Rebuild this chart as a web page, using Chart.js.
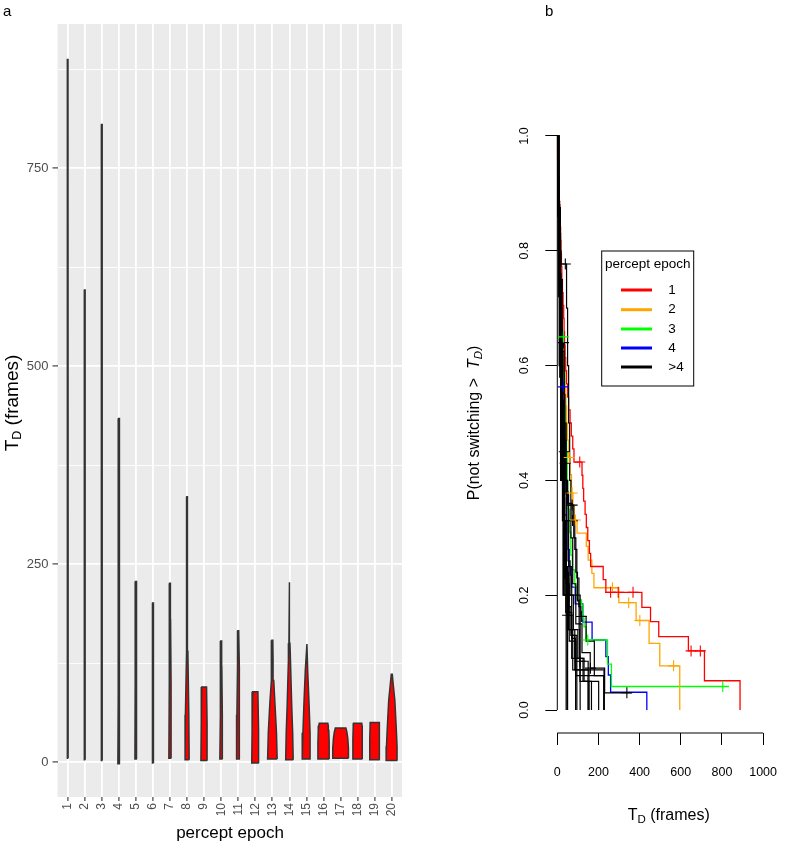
<!DOCTYPE html>
<html>
<head>
<meta charset="utf-8">
<script src="https://cdn.jsdelivr.net/npm/chart.js@4.4.1/dist/chart.umd.min.js"></script>
<style>
  body { margin: 0; background: #fff; }
  #wrap { position: relative; width: 797px; height: 845px; }
  canvas { position: absolute; top: 0; }
  #violin { left: 0; }
  #survival { left: 420px; }
</style>
</head>
<body>
<div id="wrap">
  <canvas id="violin" width="420" height="845"></canvas>
  <canvas id="survival" width="377" height="845"></canvas>
</div>
<script>
// ---- panel a : violins of T_D per percept epoch ----
const epochs = [1, 2, 3, 4, 5, 6, 7, 8, 9, 10, 11, 12, 13, 14, 15, 16, 17, 18, 19, 20];
// each profile: [T_D, half width in category units], bottom to top
const violinProfiles = [
  [[5, 0.03], [100, 0.025], [300, 0.02], [888, 0.015]],
  [[3, 0.03], [200, 0.025], [596, 0.015]],
  [[2, 0.03], [200, 0.025], [805, 0.015]],
  [[-2, 0.06], [80, 0.05], [175, 0.03], [434, 0.015]],
  [[4, 0.06], [100, 0.045], [228, 0.02]],
  [[-1, 0.035], [100, 0.03], [201, 0.02]],
  [[5, 0.07], [100, 0.06], [180, 0.03], [226, 0.02]],
  [[3, 0.12], [60, 0.1], [140, 0.045], [220, 0.02], [335, 0.015]],
  [[2, 0.19], [50, 0.17], [95, 0.14]],
  [[4, 0.08], [60, 0.065], [120, 0.035], [153, 0.025]],
  [[4, 0.1], [60, 0.08], [120, 0.045], [166, 0.025]],
  [[-1, 0.21], [40, 0.19], [89, 0.15]],
  [[4, 0.28], [37, 0.24], [74, 0.15], [103, 0.08], [129, 0.04], [154, 0.025]],
  [[3, 0.22], [37, 0.19], [74, 0.13], [129, 0.06], [150, 0.03], [227, 0.02]],
  [[4, 0.25], [37, 0.21], [74, 0.15], [116, 0.07], [149, 0.025]],
  [[4, 0.33], [25, 0.33], [40, 0.31], [46, 0.28], [49, 0.25]],
  [[5, 0.46], [18, 0.46], [30, 0.42], [38, 0.37], [43, 0.31]],
  [[4, 0.28], [30, 0.28], [45, 0.26], [49, 0.24]],
  [[3, 0.29], [30, 0.29], [46, 0.27], [50, 0.26]],
  [[2, 0.33], [20, 0.31], [40, 0.27], [78, 0.18], [95, 0.1], [111, 0.03]]
];
const yMajorA = [0, 250, 500, 750];
const yGridA = [0, 125, 250, 375, 500, 625, 750, 875];

// ---- panel b : survival curves ----
const kmEpoch1 = [[0,1],[2,0.977],[4,0.955],[6,0.932],[8,0.909],[10,0.886],[12,0.864],[14,0.841],[16,0.818],[18,0.795],[20,0.773],[22,0.75],[25,0.727],[28,0.705],[31,0.682],[33,0.659],[35,0.636],[38,0.614],[41,0.591],[45,0.568],[50,0.545],[55,0.523],[62,0.5],[68,0.477],[75,0.455],[81,0.432],[120,0.409],[124,0.386],[128,0.364],[135,0.341],[141,0.318],[148,0.295],[156,0.273],[162,0.25],[223,0.227],[236,0.205],[411,0.179],[453,0.154],[493,0.128],[637,0.103],[715,0.051],[888,0]];
const kmEpoch2 = [[0,1],[1,0.96],[2,0.92],[3,0.88],[5,0.86],[7,0.83],[9,0.8],[11,0.77],[14,0.74],[17,0.71],[20,0.68],[24,0.65],[28,0.62],[32,0.59],[36,0.56],[40,0.53],[45,0.5],[50,0.47],[56,0.44],[62,0.41],[69,0.378],[76,0.355],[82,0.331],[96,0.308],[141,0.285],[150,0.261],[168,0.238],[178,0.213],[299,0.187],[383,0.156],[446,0.116],[498,0.077],[595,0]];
const kmEpoch3 = [[0,1],[2,0.95],[4,0.9],[6,0.85],[9,0.8],[12,0.75],[16,0.7],[22,0.65],[33,0.6],[37,0.55],[41,0.5],[45,0.45],[48,0.4],[51,0.35],[58,0.31],[66,0.27],[73,0.244],[85,0.215],[96,0.192],[118,0.183],[125,0.16],[130,0.145],[140,0.122],[244,0.08],[263,0.041],[834,0.041]];
const kmEpoch4 = [[0,1],[2,0.93],[4,0.87],[7,0.8],[10,0.73],[14,0.67],[18,0.6],[24,0.563],[34,0.5],[38,0.44],[42,0.38],[46,0.33],[52,0.28],[58,0.25],[63,0.235],[70,0.214],[87,0.185],[124,0.153],[169,0.122],[236,0.093],[248,0.061],[259,0.031],[435,0]];
const censEpoch1 = [[109,0.432],[259,0.205],[296,0.205],[368,0.205],[650,0.103],[695,0.103]];
const censEpoch2 = [[58,0.44],[72,0.378],[88,0.331],[268,0.213],[347,0.187],[401,0.156],[565,0.077]];
const censEpoch3 = [[30,0.65],[148,0.122],[804,0.041]];
const censEpoch4 = [[30,0.563]];
// epochs 5 .. 20 (all drawn black, legend ">4")
const kmLater = [
  [[0,1],[3,0.9],[7,0.8],[11,0.72],[16,0.64],[21,0.57],[27,0.5],[32,0.45],[40,0.4],[50,0.36],[72,0.33],[85,0.28],[95,0.23],[105,0.18],[115,0.163],[140,0.12],[180,0.06],[228,0]],
  [[0,1],[3,0.88],[7,0.76],[12,0.65],[17,0.55],[22,0.46],[28,0.38],[34,0.31],[40,0.25],[45,0.2],[48,0.165],[70,0.13],[95,0.09],[125,0.05],[201,0]],
  [[0,1],[5,0.9],[10,0.8],[16,0.7],[22,0.6],[26,0.54],[30,0.48],[36,0.43],[44,0.38],[52,0.357],[80,0.3],[90,0.24],[98,0.19],[106,0.14],[108,0.085],[150,0.06],[226,0]],
  [[0,1],[4,0.93],[8,0.86],[13,0.8],[18,0.777],[45,0.7],[50,0.6],[55,0.5],[60,0.4],[66,0.3],[75,0.22],[90,0.15],[120,0.1],[160,0.073],[230,0.03],[362,0.03]],
  [[0,1],[6,0.88],[12,0.76],[18,0.64],[24,0.53],[30,0.43],[36,0.34],[44,0.25],[56,0.17],[70,0.09],[95,0]],
  [[0,1],[4,0.87],[8,0.75],[13,0.64],[18,0.54],[24,0.45],[30,0.37],[36,0.3],[44,0.24],[54,0.18],[66,0.13],[85,0.09],[110,0.05],[153,0]],
  [[0,1],[3,0.9],[7,0.8],[11,0.7],[16,0.64],[33,0.55],[37,0.47],[41,0.4],[46,0.33],[52,0.26],[62,0.2],[78,0.14],[100,0.09],[130,0.05],[166,0]],
  [[0,1],[7,0.875],[15,0.75],[24,0.625],[33,0.5],[43,0.375],[55,0.25],[70,0.125],[89,0]],
  [[0,1],[3,0.86],[7,0.72],[12,0.58],[18,0.45],[25,0.33],[34,0.23],[48,0.14],[75,0.07],[154,0]],
  [[0,1],[4,0.86],[9,0.72],[15,0.58],[22,0.45],[30,0.33],[40,0.23],[55,0.14],[85,0.07],[227,0]],
  [[0,1],[5,0.86],[10,0.72],[16,0.58],[23,0.45],[31,0.33],[42,0.22],[58,0.12],[90,0.06],[149,0]],
  [[0,1],[8,0.83],[16,0.67],[24,0.5],[32,0.33],[41,0.17],[49,0]],
  [[0,1],[6,0.8],[12,0.6],[20,0.4],[30,0.2],[43,0]],
  [[0,1],[7,0.8],[15,0.6],[25,0.4],[36,0.2],[49,0]],
  [[0,1],[9,0.75],[20,0.5],[33,0.25],[50,0]],
  [[0,1],[4,0.8],[9,0.6],[16,0.4],[28,0.2],[111,0]]
];
const censLater = [
  [[34,0.45],[74,0.33],[117,0.163]],
  [[50,0.165]],
  [[38,0.43],[72,0.357],[110,0.085]],
  [[39,0.777],[161,0.073],[338,0.03]],
  [], [], [[30,0.64]], [], [], [], [], [], [], [], [], []
];
const xTicksB = [0, 200, 400, 600, 800, 1000];
const yTicksB = [0, 0.2, 0.4, 0.6, 0.8, 1.0];
const legendLabels = ['1', '2', '3', '4', '>4'];
const kmColors = ['#FF0000', '#FFA500', '#00FF00', '#0000FF', '#000000'];

const fam = "'Liberation Sans', Arial, sans-serif";
Chart.defaults.font.family = fam;

// draws text pieces (with subscripts) centred on cx, optionally rotated
function richText(ctx, parts, cx, cy, rotated, color) {
  ctx.save();
  ctx.fillStyle = color;
  ctx.translate(cx, cy);
  if (rotated) ctx.rotate(-Math.PI / 2);
  let w = 0;
  parts.forEach(p => { ctx.font = p.font; p.w = ctx.measureText(p.text).width; w += p.w; });
  let x = -w / 2;
  ctx.textBaseline = 'alphabetic';
  ctx.textAlign = 'left';
  parts.forEach(p => { ctx.font = p.font; ctx.fillText(p.text, x, p.dy || 0); x += p.w; });
  ctx.restore();
}

// ---------- panel a ----------
const violinSets = epochs.map((ep, i) => {
  const prof = violinProfiles[i];
  const right = prof.map(([y, w]) => ({ x: ep + w, y: y }));
  const left = prof.slice().reverse().map(([y, w]) => ({ x: ep - w, y: y }));
  return {
    data: right.concat(left, [right[0]]),
    showLine: true,
    fill: 'shape',
    backgroundColor: '#FF0000',
    borderColor: '#333333',
    borderWidth: 1.5,
    borderJoinStyle: 'miter',
    pointRadius: 0,
    tension: 0
  };
});

const panelA = {
  id: 'panelA',
  beforeDraw(chart) {
    const { ctx, chartArea: a } = chart;
    ctx.save();
    ctx.fillStyle = '#EBEBEB';
    ctx.fillRect(a.left, a.top, a.right - a.left, a.bottom - a.top);
    ctx.restore();
  },
  afterDraw(chart) {
    const ctx = chart.ctx;
    ctx.save();
    ctx.fillStyle = '#000';
    ctx.font = '15px ' + fam;
    ctx.fillText('a', 3, 16);
    ctx.font = '17px ' + fam;
    ctx.textAlign = 'center';
    ctx.fillText('percept epoch', 230, 838);
    ctx.restore();
    richText(ctx, [
      { text: 'T', font: '19px ' + fam },
      { text: 'D', font: '12.5px ' + fam, dy: 3 },
      { text: ' (frames)', font: '19px ' + fam }
    ], 17.5, 403, true, '#000');
  }
};

const isMajor = c => c.tick && yMajorA.includes(c.tick.value);

new Chart(document.getElementById('violin'), {
  type: 'scatter',
  data: { datasets: violinSets },
  options: {
    responsive: false,
    animation: false,
    layout: { padding: { left: 0, top: 24, right: 18, bottom: 0 } },
    plugins: { legend: { display: false }, tooltip: { enabled: false } },
    scales: {
      x: {
        type: 'linear', min: 0.4, max: 20.6,
        afterBuildTicks: s => { s.ticks = epochs.map(v => ({ value: v })); },
        afterFit: s => { s.height = 48; },
        border: { display: false },
        grid: { color: '#FFFFFF', lineWidth: 1.8, tickColor: '#333333', tickLength: 4, tickWidth: 1.1 },
        ticks: { autoSkip: false, minRotation: 90, maxRotation: 90, padding: 2, color: '#4D4D4D',
          font: { size: 12 }, callback: v => String(v) }
      },
      y: {
        min: -44, max: 932,
        afterBuildTicks: s => { s.ticks = yGridA.map(v => ({ value: v })); },
        afterFit: s => { s.width = 57.5; },
        border: { display: false },
        grid: {
          color: '#FFFFFF',
          lineWidth: c => isMajor(c) ? 1.8 : 0.9,
          tickColor: c => isMajor(c) ? '#333333' : 'rgba(0,0,0,0)',
          tickLength: 5, tickWidth: 1.1
        },
        ticks: { padding: 4, color: '#4D4D4D', font: { size: 13 },
          callback: v => yMajorA.includes(v) ? String(v) : '' }
      }
    }
  },
  plugins: [panelA]
});

// ---------- panel b ----------
const toXY = arr => arr.map(([t, s]) => ({ x: t, y: s }));
const kmEarly = [kmEpoch1, kmEpoch2, kmEpoch3, kmEpoch4];
const censEarly = [censEpoch1, censEpoch2, censEpoch3, censEpoch4];
const survSets = [];
kmEarly.forEach((c, i) => survSets.push({
  data: toXY(c), showLine: true, stepped: true, borderColor: kmColors[i],
  borderWidth: 1.3, pointRadius: 0, order: 3, clip: false
}));
kmLater.forEach(c => survSets.push({
  data: toXY(c), showLine: true, stepped: true, borderColor: kmColors[4],
  borderWidth: 1.2, pointRadius: 0, order: 2, clip: false
}));
censEarly.concat(censLater).forEach((c, i) => {
  if (!c.length) return;
  survSets.push({
    data: toXY(c), showLine: false, pointStyle: 'cross', pointRadius: 5.5,
    borderColor: kmColors[Math.min(i, 4)], borderWidth: 1.1, order: 1, clip: false
  });
});

const panelB = {
  id: 'panelB',
  afterDraw(chart) {
    const { ctx, chartArea: a, scales: { x, y } } = chart;
    ctx.save();
    ctx.strokeStyle = '#000';
    ctx.lineWidth = 1;
    ctx.beginPath();
    ctx.moveTo(a.left, y.getPixelForValue(yTicksB[0]));
    ctx.lineTo(a.left, y.getPixelForValue(yTicksB[yTicksB.length - 1]));
    ctx.moveTo(x.getPixelForValue(xTicksB[0]), a.bottom);
    ctx.lineTo(x.getPixelForValue(xTicksB[xTicksB.length - 1]), a.bottom);
    ctx.stroke();

    ctx.fillStyle = '#000';
    ctx.font = '12.5px ' + fam;
    ctx.textAlign = 'center';
    ctx.textBaseline = 'middle';
    yTicksB.forEach(v => {
      ctx.save();
      ctx.translate(105, y.getPixelForValue(v));
      ctx.rotate(-Math.PI / 2);
      ctx.fillText(v.toFixed(1), 0, 0);
      ctx.restore();
    });

    // legend
    ctx.lineWidth = 1;
    ctx.strokeRect(181.7, 251, 92, 135);
    ctx.font = '13.5px ' + fam;
    ctx.fillText('percept epoch', 227.7, 264);
    const rows = [290, 309.7, 329, 348, 367];
    legendLabels.forEach((lab, i) => {
      ctx.strokeStyle = kmColors[i];
      ctx.lineWidth = 3;
      ctx.beginPath();
      ctx.moveTo(201, rows[i]);
      ctx.lineTo(232, rows[i]);
      ctx.stroke();
      ctx.textAlign = 'left';
      ctx.fillText(lab, 248.3, rows[i]);
    });

    ctx.textBaseline = 'alphabetic';
    ctx.font = '15px ' + fam;
    ctx.fillText('b', 125, 16);
    ctx.restore();

    richText(ctx, [
      { text: 'P(not switching >  ', font: '16px ' + fam },
      { text: 'T', font: 'italic 16px ' + fam },
      { text: 'D', font: 'italic 11.5px ' + fam, dy: 3 },
      { text: ')', font: '16px ' + fam }
    ], 59, 423, true, '#000');
    richText(ctx, [
      { text: 'T', font: '16px ' + fam },
      { text: 'D', font: '11.5px ' + fam, dy: 3 },
      { text: ' (frames)', font: '16px ' + fam }
    ], 248.7, 820, false, '#000');
  }
};

new Chart(document.getElementById('survival'), {
  type: 'scatter',
  data: { datasets: survSets },
  options: {
    responsive: false,
    animation: false,
    layout: { padding: { left: 0, top: 113, right: 16.7, bottom: 0 } },
    plugins: { legend: { display: false }, tooltip: { enabled: false } },
    scales: {
      x: {
        type: 'linear', min: 0, max: 1000,
        afterBuildTicks: s => { s.ticks = xTicksB.map(v => ({ value: v })); },
        afterFit: s => { s.height = 112; },
        border: { display: false },
        grid: { drawOnChartArea: false, color: '#000', tickLength: 12, lineWidth: 1 },
        ticks: { padding: 20, color: '#000', font: { size: 12.5 }, maxRotation: 0, autoSkip: false,
          callback: v => String(v) }
      },
      y: {
        min: -0.04, max: 1.04,
        afterBuildTicks: s => { s.ticks = yTicksB.map(v => ({ value: v })); },
        afterFit: s => { s.width = 137.3; },
        border: { display: false },
        grid: { drawOnChartArea: false, color: '#000', tickLength: 12, lineWidth: 1 },
        ticks: { display: false }
      }
    }
  },
  plugins: [panelB]
});
</script>
</body>
</html>
